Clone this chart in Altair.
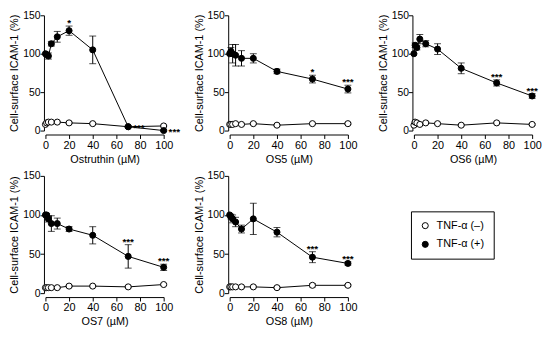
import altair as alt
import pandas as pd

conc = [0, 1, 2.5, 5, 10, 20, 40, 70, 100]
x_ticks = [0, 20, 40, 60, 80, 100]
y_ticks = [0, 50, 100, 150]
series_names = ["TNF-α (–)", "TNF-α (+)"]

names = ["Ostruthin", "OS5", "OS6", "OS7", "OS8"]

# TNF-a (+) means and errors
pos = {
    "Ostruthin": [100, 99, 97, 113, 122, 130, 105, 5, 0],
    "OS5": [100, 103, 100, 98, 94, 94, 77, 67, 54],
    "OS6": [100, 111, 108, 119, 113, 106, 81, 62, 45],
    "OS7": [100, 100, 95, 89, 89, 82, 74, 47, 33],
    "OS8": [100, 98, 95, 91, 82, 95, 78, 46, 38],
}
pos_err = {
    "Ostruthin": [0, 2, 4, 3, 7, 6, 18, 1, 1],
    "OS5": [0, 5, 12, 14, 10, 6, 3, 5, 5],
    "OS6": [0, 3, 3, 6, 4, 7, 7, 4, 3],
    "OS7": [0, 2, 4, 10, 7, 3, 11, 15, 4],
    "OS8": [0, 3, 5, 6, 5, 20, 6, 7, 2],
}
# TNF-a (-) means and errors
neg = {
    "Ostruthin": [8, 10, 11, 11, 11, 10, 9, 5, 6],
    "OS5": [8, 8, 8, 9, 8, 9, 7, 9, 9],
    "OS6": [7, 11, 10, 8, 10, 9, 7, 10, 8],
    "OS7": [7, 7, 7, 7, 7, 9, 9, 8, 11],
    "OS8": [8, 8, 8, 8, 8, 8, 7, 10, 10],
}
neg_err = {
    "Ostruthin": [0, 1, 1, 1, 1, 1, 1, 1, 1],
    "OS5": [0, 1, 1, 1, 1, 1, 1, 1, 1],
    "OS6": [0, 1, 1, 1, 1, 1, 1, 1, 1],
    "OS7": [0, 1, 1, 1, 1, 1, 1, 1, 1],
    "OS8": [0, 1, 1, 1, 1, 1, 1, 2, 1],
}
# significance marks: (concentration, text, placement)
stars = {
    "Ostruthin": [(20, "*", "above"), (70, "***", "right"), (100, "***", "right")],
    "OS5": [(70, "*", "above"), (100, "***", "above")],
    "OS6": [(70, "***", "above"), (100, "***", "above")],
    "OS7": [(70, "***", "above"), (100, "***", "above")],
    "OS8": [(70, "***", "above"), (100, "***", "above")],
}

FONT = "Liberation Sans"


def panel(name, h):
    rows = []
    for s, vals, errs in [(series_names[0], neg[name], neg_err[name]),
                          (series_names[1], pos[name], pos_err[name])]:
        for c, v, e in zip(conc, vals, errs):
            rows.append({"conc": c, "val": v, "lo": v - e, "hi": v + e,
                         "err": e, "series": s})
    df = pd.DataFrame(rows)

    srows = []
    for c, t, side in stars[name]:
        i = conc.index(c)
        v = pos[name][i]
        e = pos_err[name][i]
        srows.append({"conc": c, "top": v + e, "val": v, "txt": t, "side": side})
    sdf = pd.DataFrame(srows)

    xaxis = alt.Axis(values=x_ticks, title=f"{name} (µM)", offset=4,
                     labelFontSize=11, labelPadding=1, titlePadding=3,
                     labelOverlap=False, labelFlush=False, tickCount=6)
    yaxis = alt.Axis(values=y_ticks, title="Cell-surface ICAM-1 (%)",
                     offset=1.5, labelFontSize=10.5, labelPadding=0,
                     titlePadding=3, labelOverlap=False, labelFlush=False,
                     tickCount=4)
    xscale = alt.Scale(domain=[0, 100], nice=False)
    yscale = alt.Scale(domain=[0, 150], nice=False)

    def X():
        return alt.X("conc:Q", scale=xscale, axis=xaxis)

    def Y(f):
        return alt.Y(f"{f}:Q", scale=yscale, axis=yaxis)

    base = alt.Chart(df)
    lines = base.mark_line(color="black", strokeWidth=1).encode(
        x=X(), y=Y("val"), detail="series:N")
    errdf = base.transform_filter("datum.err > 0")
    rules = errdf.mark_rule(color="black", strokeWidth=1).encode(
        x=X(), y=Y("lo"), y2="hi:Q")
    cap_hi = errdf.mark_tick(orient="horizontal", color="black", size=7,
                             thickness=1).encode(x=X(), y=Y("hi"))
    cap_lo = errdf.mark_tick(orient="horizontal", color="black", size=7,
                             thickness=1).encode(x=X(), y=Y("lo"))
    pts = base.mark_point(filled=True, shape="circle", size=38, stroke="black",
                          strokeWidth=1, opacity=1).encode(
        x=X(), y=Y("val"),
        fill=alt.Fill("series:N",
                      scale=alt.Scale(domain=series_names, range=["white", "black"]),
                      legend=alt.Legend(title=None, orient="none",
                                        legendX=371, legendY=199,
                                        strokeColor="black", padding=9,
                                        symbolType="circle", symbolSize=38,
                                        symbolStrokeColor="black",
                                        symbolStrokeWidth=1,
                                        labelFontSize=11, labelFont=FONT,
                                        labelColor="black",
                                        rowPadding=7, labelOffset=6)))
    sbase = alt.Chart(sdf)
    st_above = sbase.transform_filter("datum.side == 'above'").mark_text(
        fontSize=10, fontWeight="bold", baseline="bottom", align="center",
        dy=2, font=FONT, color="black").encode(x=X(), y=Y("top"), text="txt:N")
    st_right = sbase.transform_filter("datum.side == 'right'").mark_text(
        fontSize=10, fontWeight="bold", baseline="middle", align="left",
        dx=5, dy=1, font=FONT, color="black").encode(x=X(), y=Y("val"), text="txt:N")

    return alt.layer(lines, rules, cap_hi, cap_lo, pts, st_above, st_right).properties(
        width=120, height=h)


heights = [117, 117, 117, 119, 119]
chart = alt.concat(*[panel(n, h) for n, h in zip(names, heights)], columns=3,
                   spacing=alt.RowColnumber(row=46, column=67),
                   bounds="flush").properties(
    padding={"left": 0, "top": 0, "right": 0, "bottom": 0}
).configure_view(stroke=None).configure_axis(
    grid=False, domainColor="black", tickColor="black", labelColor="black",
    titleColor="black", labelFont=FONT, titleFont=FONT,
    titleFontSize=11, titleFontWeight="normal", tickSize=4, domainWidth=1,
    tickWidth=1
)

chart.save("out.html", embed_options={"renderer": "svg", "actions": False})
